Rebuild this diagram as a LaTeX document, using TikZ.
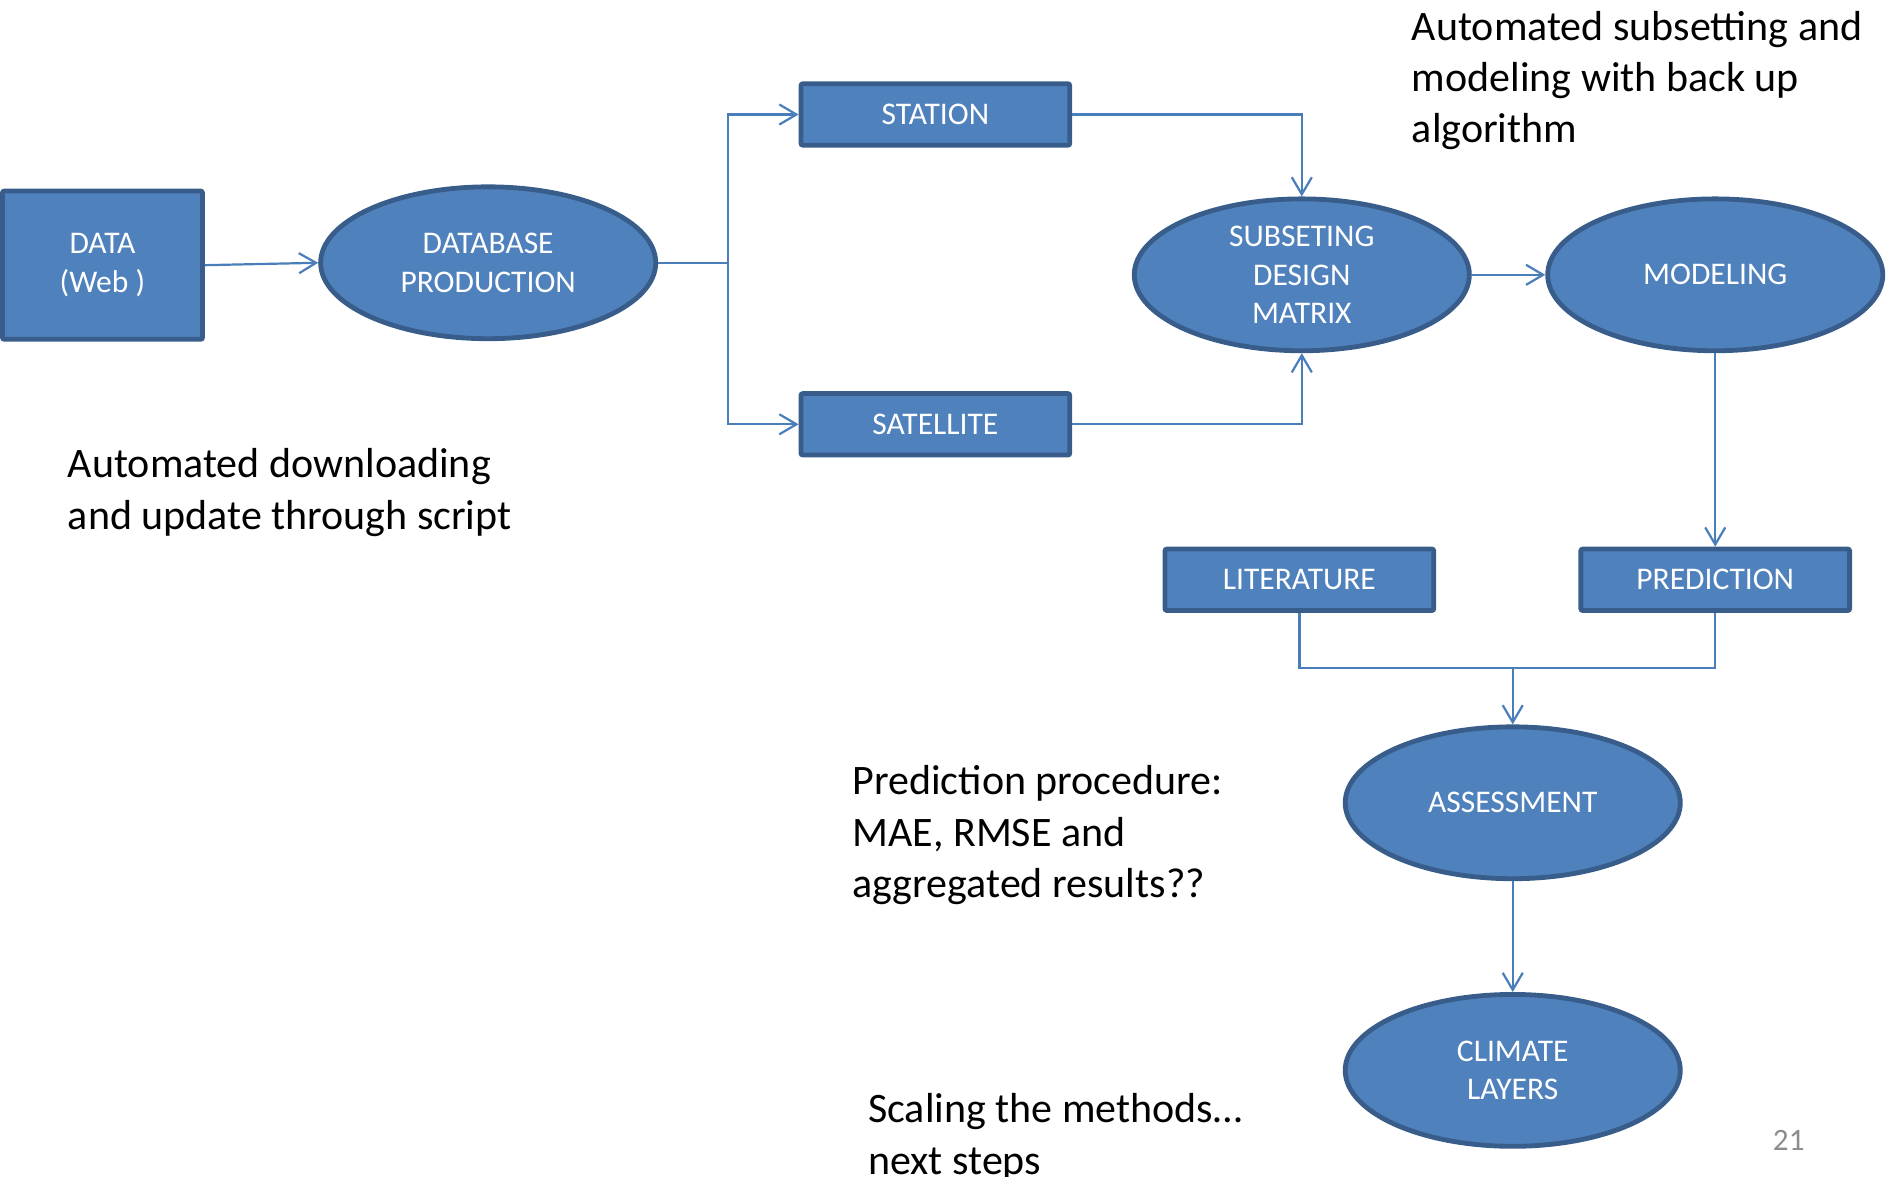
\documentclass[tikz,border=0pt]{standalone}
\usepackage{fontspec}
\setmainfont{Carlito}
\usetikzlibrary{shapes.geometric,arrows.meta}
\definecolor{boxfill}{HTML}{4F81BD}
\definecolor{boxline}{HTML}{385D8A}
\definecolor{conn}{HTML}{4A7EBB}
\definecolor{pagenum}{HTML}{8C8C8C}
\begin{document}
\begin{tikzpicture}[x=0.6pt,y=-0.6pt,
  rbox/.style={rectangle, rounded corners=1pt, draw=boxline, fill=boxfill, line width=2.4pt,
    minimum width=133.8pt, minimum height=30.6pt, inner sep=0pt,
    text=white, font=\fontsize{15.7}{19.2}\selectfont, align=center},
  ebox/.style={ellipse, draw=boxline, fill=boxfill, line width=2.4pt,
    minimum width=166.8pt, minimum height=75.6pt, inner sep=0pt,
    text=white, font=\fontsize{15.7}{19.2}\selectfont, align=center},
  link/.style={draw=conn, line width=1.1pt},
  arr/.style={link, -{Straight Barb[length=8.5pt,width=10pt]}},
  note/.style={anchor=north west, inner sep=0pt, align=left,
    font=\fontsize{20.9}{25.5}\selectfont}]
\useasboundingbox (0,0) rectangle (1568,976);
% nodes
\node[rbox, minimum width=99.6pt, minimum height=73.8pt] (data) at (85,220) {DATA\\(Web )};
\node[ebox] (db) at (405,218) {DATABASE\\PRODUCTION};
\node[rbox] (station) at (776,95) {STATION};
\node[rbox] (satellite) at (776,352) {SATELLITE};
\node[ebox] (subset) at (1080,228) {SUBSETING\\DESIGN\\MATRIX};
\node[ebox] (model) at (1423,228) {MODELING};
\node[rbox] (lit) at (1078,481) {LITERATURE};
\node[rbox] (pred) at (1423,481) {PREDICTION};
\node[ebox] (assess) at (1255,666) {ASSESSMENT};
\node[ebox] (climate) at (1255,888) {CLIMATE\\LAYERS};
% notes
\node[note] (n1) at (1171,9) {Automated subsetting and\\modeling with back up\\algorithm};
\node[note] (n2) at (56,372) {Automated downloading\\and update through script};
\node[note] (n3) at (707,635) {Prediction procedure:\\MAE, RMSE and\\aggregated results??};
\node[note] (n4) at (720,907) {Scaling the methods…\\next steps};
\node[text=pagenum, inner sep=0pt, font=\fontsize{15.5}{18}\selectfont] (pg) at (1484,946) {21};
% connectors
\coordinate (split) at (604,218);
\coordinate (merge) at (1255,554);
\draw[arr] (data.east) -- (db.west);
\draw[link] (db.east) -- (split);
\draw[arr] (split) |- (station.west);
\draw[arr] (split) |- (satellite.west);
\draw[arr] (station.east) -| (subset.north);
\draw[arr] (satellite.east) -| (subset.south);
\draw[arr] (subset.east) -- (model.west);
\draw[arr] (model.south) -- (pred.north);
\draw[link] (lit.south) |- (merge);
\draw[link] (pred.south) |- (merge);
\draw[arr] (merge) -- (assess.north);
\draw[arr] (assess.south) -- (climate.north);
\end{tikzpicture}
\end{document}
